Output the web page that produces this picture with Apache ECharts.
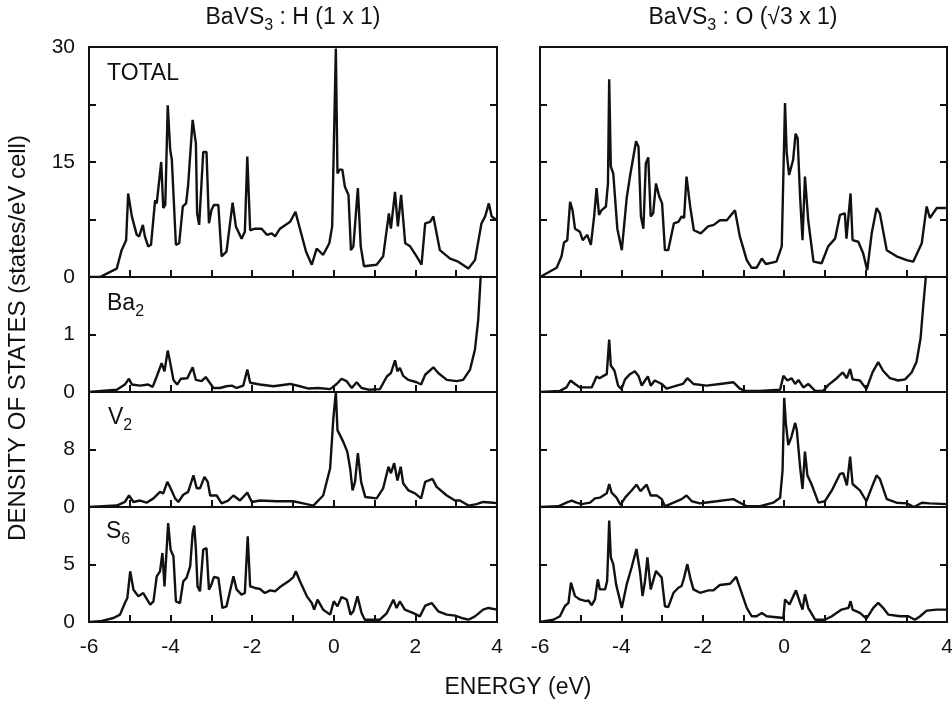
<!DOCTYPE html>
<html>
<head>
<meta charset="utf-8">
<script src="https://cdn.jsdelivr.net/npm/echarts@6/dist/echarts.min.js"></script>
<style>
  html, body { margin: 0; padding: 0; background: #fff; }
  #main { width: 952px; height: 704px; }
</style>
</head>
<body>
<div id="main"></div>
<script>
// energy (eV) vs density of states
// left column: BaVS3 : H (1x1)
const hTotal = [[-6,0],[-5.73,0],[-5.32,1.1],[-5.2,3.5],[-5.09,4.8],[-5.04,10.9],[-4.95,7.9],[-4.83,5.5],[-4.77,5.3],[-4.68,6.8],[-4.63,5.3],[-4.55,4.0],[-4.48,4.2],[-4.38,10.0],[-4.34,9.6],[-4.23,15.0],[-4.18,9.0],[-4.13,9.4],[-4.07,22.4],[-4.01,16.6],[-3.97,15.3],[-3.87,4.2],[-3.79,4.4],[-3.7,9.2],[-3.62,9.6],[-3.57,12.0],[-3.53,12.0],[-3.46,20.5],[-3.42,20.7],[-3.38,17.4],[-3.35,8.3],[-3.3,6.8],[-3.2,16.3],[-3.12,16.3],[-3.06,7.0],[-3.0,8.7],[-2.94,9.4],[-2.83,9.4],[-2.75,2.7],[-2.63,3.3],[-2.48,9.7],[-2.4,6.6],[-2.26,5.0],[-2.18,5.9],[-2.12,15.7],[-2.05,6.1],[-1.93,6.3],[-1.77,6.3],[-1.64,5.5],[-1.52,5.7],[-1.44,5.3],[-1.32,6.3],[-1.07,7.2],[-0.94,8.5],[-0.83,6.3],[-0.68,3.3],[-0.54,1.6],[-0.42,3.7],[-0.26,2.9],[-0.11,4.4],[-0.04,6.6],[0.05,29.8],[0.09,13.5],[0.14,14.0],[0.21,14.0],[0.27,11.8],[0.36,10.7],[0.42,3.5],[0.48,4.0],[0.59,11.6],[0.66,4.0],[0.74,1.4],[1.05,1.6],[1.21,2.7],[1.35,8.3],[1.4,6.3],[1.5,11.1],[1.57,6.6],[1.65,10.7],[1.75,4.4],[1.87,4.0],[2.03,2.7],[2.15,1.6],[2.24,7.0],[2.36,7.2],[2.44,7.9],[2.6,3.5],[2.85,2.4],[3.05,2.0],[3.3,1.1],[3.46,2.2],[3.62,7.0],[3.71,7.9],[3.8,9.6],[3.87,7.9],[4.0,7.4]];
const hBa = [[-6,0],[-5.32,0.04],[-5.12,0.13],[-5.02,0.23],[-4.95,0.13],[-4.75,0.11],[-4.55,0.13],[-4.44,0.09],[-4.34,0.27],[-4.22,0.5],[-4.15,0.36],[-4.07,0.72],[-4.02,0.55],[-3.93,0.21],[-3.84,0.13],[-3.75,0.23],[-3.59,0.24],[-3.46,0.43],[-3.38,0.21],[-3.24,0.19],[-3.14,0.26],[-3.04,0.16],[-2.95,0.07],[-2.79,0.07],[-2.63,0.1],[-2.5,0.11],[-2.38,0.07],[-2.22,0.11],[-2.12,0.39],[-2.05,0.16],[-1.81,0.13],[-1.48,0.1],[-1.07,0.14],[-0.83,0.1],[-0.62,0.06],[-0.38,0.07],[-0.09,0.05],[0.07,0.14],[0.19,0.23],[0.31,0.19],[0.44,0.07],[0.56,0.17],[0.68,0.07],[0.85,0.04],[1.13,0.05],[1.3,0.27],[1.4,0.33],[1.5,0.55],[1.56,0.36],[1.62,0.42],[1.7,0.28],[1.83,0.21],[2.03,0.17],[2.14,0.13],[2.24,0.3],[2.44,0.43],[2.56,0.33],[2.77,0.21],[3.01,0.19],[3.17,0.21],[3.34,0.39],[3.46,0.74],[3.54,1.26],[3.6,2.0],[3.63,2.6]];
const hV = [[-6,0],[-5.32,0.2],[-5.12,0.7],[-5.02,1.6],[-4.91,0.7],[-4.75,0.9],[-4.59,0.6],[-4.42,1.2],[-4.26,2.1],[-4.18,1.9],[-4.08,3.5],[-4.0,2.6],[-3.89,1.2],[-3.81,0.7],[-3.69,1.7],[-3.57,2.1],[-3.44,4.4],[-3.36,2.6],[-3.28,2.6],[-3.17,4.2],[-3.09,3.5],[-3.03,1.6],[-2.87,1.6],[-2.75,0.5],[-2.59,0.9],[-2.46,1.6],[-2.3,0.9],[-2.12,2.0],[-2.01,0.7],[-1.81,0.9],[-1.4,0.8],[-0.99,0.8],[-0.75,0.5],[-0.5,0.2],[-0.26,1.6],[-0.09,5.4],[-0.01,12.4],[0.05,16.0],[0.09,10.7],[0.23,9.1],[0.33,7.7],[0.4,5.4],[0.46,2.3],[0.52,3.5],[0.59,7.5],[0.67,3.5],[0.77,1.4],[1.05,1.2],[1.21,2.6],[1.34,5.6],[1.4,4.7],[1.48,6.1],[1.56,3.7],[1.64,5.6],[1.7,3.3],[1.83,2.3],[1.99,1.9],[2.14,1.2],[2.24,3.5],[2.42,3.9],[2.52,2.8],[2.77,1.6],[2.97,0.9],[3.09,0.9],[3.3,0.2],[3.5,0.4],[3.66,0.7],[3.91,0.6],[4.0,0.5]];
const hS = [[-6,0],[-5.73,0.06],[-5.4,0.35],[-5.24,0.64],[-5.12,1.65],[-5.06,2.09],[-4.99,4.41],[-4.91,2.81],[-4.79,2.23],[-4.67,2.52],[-4.5,1.51],[-4.42,1.8],[-4.34,3.97],[-4.26,4.41],[-4.2,6.0],[-4.15,3.1],[-4.11,3.25],[-4.06,8.61],[-4.0,6.29],[-3.93,5.71],[-3.87,1.8],[-3.77,1.65],[-3.69,3.54],[-3.61,3.83],[-3.52,4.84],[-3.46,7.74],[-3.42,8.38],[-3.38,6.29],[-3.34,3.1],[-3.28,2.67],[-3.2,6.29],[-3.12,6.43],[-3.06,2.81],[-3.0,3.25],[-2.94,3.91],[-2.83,3.83],[-2.73,1.22],[-2.63,1.36],[-2.46,3.97],[-2.38,2.81],[-2.26,2.38],[-2.18,2.52],[-2.11,7.45],[-2.05,3.1],[-1.93,2.96],[-1.81,2.87],[-1.69,2.52],[-1.56,2.75],[-1.44,2.67],[-1.32,3.04],[-1.11,3.54],[-0.99,3.91],[-0.93,4.41],[-0.83,3.54],[-0.66,2.23],[-0.54,1.65],[-0.48,1.07],[-0.4,1.94],[-0.26,1.07],[-0.09,0.64],[0.0,1.8],[0.09,1.36],[0.19,2.17],[0.32,1.94],[0.41,0.64],[0.48,0.93],[0.58,2.23],[0.68,0.78],[0.76,0.2],[1.13,0.2],[1.3,0.78],[1.46,1.94],[1.54,1.22],[1.62,1.8],[1.74,1.07],[1.95,0.78],[2.11,0.49],[2.24,1.42],[2.4,1.65],[2.56,0.93],[2.77,0.64],[2.97,0.55],[3.13,0.35],[3.3,0.2],[3.46,0.49],[3.66,1.07],[3.79,1.22],[4.0,1.07]];

// right column: BaVS3 : O (sqrt3 x 1)
const oTotal = [[-6,0],[-5.96,0],[-5.59,1.2],[-5.47,2.7],[-5.41,4.5],[-5.33,4.8],[-5.26,9.8],[-5.2,8.7],[-5.14,6.3],[-5.02,5.9],[-4.95,4.8],[-4.84,5.5],[-4.75,4.2],[-4.67,7.9],[-4.61,11.6],[-4.55,8.1],[-4.49,8.7],[-4.38,9.2],[-4.33,12.2],[-4.3,25.8],[-4.26,14.4],[-4.2,13.5],[-4.1,6.3],[-3.99,3.5],[-3.87,10.3],[-3.79,13.1],[-3.64,17.7],[-3.58,17.0],[-3.52,7.9],[-3.46,6.3],[-3.4,14.8],[-3.34,15.6],[-3.28,7.9],[-3.22,8.3],[-3.15,12.2],[-3.07,10.5],[-3.0,9.6],[-2.93,3.5],[-2.85,3.5],[-2.71,7.0],[-2.6,7.2],[-2.52,7.9],[-2.46,7.7],[-2.4,13.1],[-2.31,9.2],[-2.22,6.1],[-2.05,5.7],[-1.87,6.6],[-1.73,6.8],[-1.58,7.4],[-1.41,7.4],[-1.21,8.7],[-1.09,5.3],[-0.92,2.2],[-0.8,1.2],[-0.68,1.2],[-0.55,2.4],[-0.45,1.7],[-0.19,2.0],[-0.06,4.0],[0.02,22.7],[0.06,16.3],[0.12,13.3],[0.22,15.3],[0.28,18.7],[0.33,18.1],[0.39,10.5],[0.45,4.8],[0.51,13.1],[0.59,7.4],[0.72,2.0],[0.92,1.8],[1.08,4.0],[1.25,5.0],[1.37,8.1],[1.49,8.3],[1.53,5.0],[1.63,10.9],[1.68,4.8],[1.82,4.6],[1.94,3.1],[2.04,0.9],[2.15,5.7],[2.27,9.0],[2.35,8.3],[2.52,3.5],[2.76,2.7],[3.01,2.2],[3.17,2.0],[3.38,4.4],[3.5,9.2],[3.58,7.7],[3.75,9.0],[4.0,9.0]];
const oBa = [[-6,0],[-5.51,0.02],[-5.35,0.08],[-5.25,0.2],[-5.14,0.14],[-5.02,0.08],[-4.73,0.08],[-4.61,0.27],[-4.54,0.24],[-4.44,0.28],[-4.36,0.31],[-4.3,0.91],[-4.26,0.46],[-4.17,0.37],[-4.08,0.11],[-4.0,0.05],[-3.91,0.22],[-3.79,0.31],[-3.67,0.36],[-3.58,0.28],[-3.5,0.11],[-3.42,0.2],[-3.35,0.27],[-3.28,0.11],[-3.18,0.2],[-3.01,0.14],[-2.89,0.06],[-2.64,0.11],[-2.49,0.14],[-2.38,0.24],[-2.23,0.14],[-1.91,0.11],[-1.58,0.14],[-1.25,0.17],[-1.09,0.06],[-0.96,0.02],[-0.6,0.02],[-0.1,0.04],[-0.02,0.28],[0.08,0.2],[0.18,0.24],[0.27,0.14],[0.35,0.21],[0.47,0.08],[0.59,0.14],[0.76,0.02],[0.96,0.02],[1.08,0.12],[1.29,0.24],[1.44,0.34],[1.54,0.24],[1.62,0.4],[1.68,0.22],[1.86,0.2],[2.02,0.05],[2.17,0.34],[2.31,0.52],[2.43,0.37],[2.6,0.24],[2.8,0.2],[2.97,0.22],[3.13,0.34],[3.25,0.52],[3.35,0.93],[3.42,1.53],[3.48,2.0],[3.51,2.6]];
const oV = [[-6,0],[-5.55,0.1],[-5.35,0.6],[-5.22,0.9],[-5.1,0.6],[-4.98,0.4],[-4.77,0.6],[-4.65,1.2],[-4.53,1.3],[-4.36,1.9],[-4.3,3.2],[-4.24,2.0],[-4.12,1.3],[-4.02,0.3],[-3.91,1.3],[-3.75,2.3],[-3.63,3.1],[-3.53,2.2],[-3.45,2.7],[-3.38,3.1],[-3.28,1.6],[-3.13,1.6],[-3.01,1.1],[-2.93,0.1],[-2.72,0.6],[-2.52,1.1],[-2.4,1.6],[-2.27,0.8],[-2.07,0.5],[-1.95,0.6],[-1.66,0.8],[-1.25,1.1],[-1.09,0.6],[-0.92,0.1],[-0.59,0.1],[-0.27,0.6],[-0.1,1.3],[-0.04,5.1],[0.0,15.2],[0.04,11.7],[0.1,8.6],[0.18,9.8],[0.27,11.7],[0.31,10.7],[0.39,5.6],[0.45,2.5],[0.51,7.7],[0.57,4.4],[0.67,3.2],[0.84,0.6],[1.0,0.8],[1.17,2.3],[1.37,4.6],[1.45,4.7],[1.54,3.0],[1.62,7.0],[1.68,3.2],[1.86,2.3],[2.02,0.8],[2.17,3.0],[2.27,4.4],[2.35,3.9],[2.52,1.1],[2.76,0.6],[3.01,0.5],[3.19,0.0],[3.38,0.6],[3.58,0.5],[4.0,0.4]];
const oS = [[-6,0],[-5.67,0.2],[-5.51,0.5],[-5.39,1.37],[-5.3,1.67],[-5.24,3.42],[-5.14,2.25],[-5.02,1.96],[-4.87,1.81],[-4.81,1.87],[-4.73,1.46],[-4.65,1.96],[-4.58,3.71],[-4.53,2.84],[-4.4,2.84],[-4.35,3.57],[-4.3,8.83],[-4.26,5.61],[-4.2,5.03],[-4.13,3.27],[-3.99,1.23],[-3.87,3.27],[-3.75,4.74],[-3.63,6.35],[-3.54,4.3],[-3.48,2.25],[-3.42,3.57],[-3.36,5.61],[-3.28,2.84],[-3.15,4.44],[-3.01,3.86],[-2.93,1.37],[-2.85,1.29],[-2.72,2.54],[-2.6,2.98],[-2.52,3.13],[-2.46,3.86],[-2.38,5.03],[-2.31,3.86],[-2.23,2.84],[-2.07,2.54],[-1.86,2.75],[-1.74,2.75],[-1.58,3.22],[-1.33,3.33],[-1.18,3.92],[-1.09,2.98],[-0.92,1.23],[-0.8,0.5],[-0.68,0.5],[-0.55,0.79],[-0.43,0.5],[-0.02,0.35],[0.02,1.96],[0.13,1.52],[0.29,2.75],[0.39,1.67],[0.45,1.08],[0.51,2.4],[0.59,1.23],[0.76,0.2],[1.0,0.2],[1.17,0.5],[1.41,1.08],[1.58,1.23],[1.63,1.81],[1.68,1.08],[1.86,0.79],[2.02,0.29],[2.19,1.23],[2.31,1.67],[2.43,1.23],[2.56,0.64],[2.85,0.5],[3.05,0.5],[3.21,0.2],[3.34,0.5],[3.5,0.99],[3.75,1.08],[4.0,1.08]];

// axis settings per row
const yMax = [30, 2, 16, 10];
const yStep = [7.5, 1, 8, 5];
const yLabelStep = [15, 1, 8, 5];
const xTicks = [-6, -4, -2, 0, 2, 4];

const columns = [
  { left: 89, width: 408, curves: [hTotal, hBa, hV, hS] },
  { left: 540, width: 407, curves: [oTotal, oBa, oV, oS] }
];
const rowTop = [47, 277, 392, 507];
const rowHeight = [230, 115, 115, 115];

const FONT = '"Liberation Sans", Arial, Helvetica, sans-serif';
const INK = '#111';

const grid = [], xAxis = [], yAxis = [], series = [];
columns.forEach((col, c) => {
  for (let r = 0; r < 4; r++) {
    const g = grid.length;
    grid.push({
      left: col.left, top: rowTop[r], width: col.width, height: rowHeight[r],
      outerBoundsMode: 'none', containLabel: false,
      show: true, borderColor: INK, borderWidth: 2, backgroundColor: 'transparent'
    });
    xAxis.push({
      type: 'value', gridIndex: g, position: 'bottom', min: -6, max: 4, interval: 1,
      axisLine: { show: true, onZero: false, lineStyle: { color: INK, width: 2 } },
      axisTick: { show: true, inside: true, length: 7, lineStyle: { color: INK, width: 2 } },
      splitLine: { show: false },
      axisLabel: {
        show: r === 3, color: INK, fontSize: 21, fontFamily: FONT, margin: 15,
        formatter: v => (xTicks.indexOf(v) >= 0 ? String(v) : '')
      }
    });
    ['left', 'right'].forEach(pos => {
      yAxis.push({
        type: 'value', gridIndex: g, position: pos, min: 0, max: yMax[r], interval: yStep[r],
        axisLine: { show: true, onZero: false, lineStyle: { color: INK, width: 2 } },
        axisTick: { show: true, inside: true, length: 7, lineStyle: { color: INK, width: 2 } },
        splitLine: { show: false },
        axisLabel: {
          show: pos === 'left' && c === 0, color: INK, fontSize: 21, fontFamily: FONT, margin: 14,
          formatter: v => {
            if (r === 0) return v % yLabelStep[r] === 0 ? String(v) : '';
            return v < yMax[r] ? String(v) : '';
          }
        }
      });
    });
    series.push({
      type: 'line', xAxisIndex: g, yAxisIndex: 2 * g, data: col.curves[r],
      symbol: 'none', smooth: false, clip: true, silent: true,
      lineStyle: { color: INK, width: 2.4 }
    });
  }
});

const subRich = {
  n: { fontSize: 23, fontFamily: FONT, fill: INK, padding: [0, 0, 5, 0], verticalAlign: 'bottom' },
  s: { fontSize: 16, fontFamily: FONT, fill: INK, verticalAlign: 'bottom' }
};
function label(text, x, y, align) {
  return {
    type: 'text', x: x, y: y, silent: true,
    style: { text: text, rich: subRich, fill: INK, font: '23px ' + FONT, align: align, verticalAlign: 'middle' }
  };
}

const graphic = [
  label('{n|BaVS}{s|3}{n| : H (1 x 1)}', 293, 20, 'center'),
  label('{n|BaVS}{s|3}{n| : O (\u221A3 x 1)}', 743, 20, 'center'),
  label('{n|TOTAL}', 107, 76, 'left'),
  label('{n|Ba}{s|2}', 107, 306, 'left'),
  label('{n|V}{s|2}', 108, 420, 'left'),
  label('{n|S}{s|6}', 106, 534, 'left'),
  {
    type: 'text', x: 518, y: 688, silent: true,
    style: { text: 'ENERGY (eV)', fill: INK, font: '23px ' + FONT, align: 'center', verticalAlign: 'middle' }
  },
  {
    type: 'text', x: 18, y: 338, rotation: Math.PI / 2, silent: true,
    style: { text: 'DENSITY OF STATES (states/eV cell)', fill: INK, font: '24px ' + FONT, align: 'center', verticalAlign: 'middle' }
  }
];

const chart = echarts.init(document.getElementById('main'), null, { renderer: 'canvas' });
chart.setOption({
  backgroundColor: '#fff',
  animation: false,
  grid: grid,
  xAxis: xAxis,
  yAxis: yAxis,
  series: series,
  graphic: graphic
});
</script>
</body>
</html>
